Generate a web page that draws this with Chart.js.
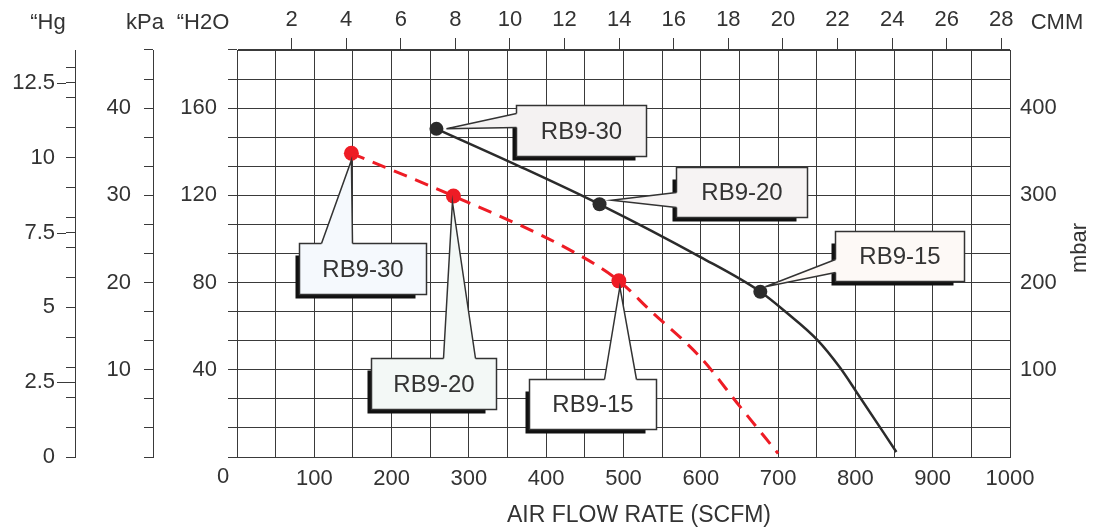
<!DOCTYPE html>
<html>
<head>
<meta charset="utf-8">
<style>
  html, body { margin: 0; padding: 0; background: #fff; }
  #wrap { width: 1093px; height: 529px; }
</style>
<script src="https://cdn.jsdelivr.net/npm/chart.js@4.4.1/dist/chart.umd.min.js"></script>
</head>
<body>
<div id="wrap"><canvas id="chart"></canvas></div>
<script>
// curves: flow in SCFM, vacuum in inches of water
const blackFlow = [258, 366, 469, 599, 677, 710, 751, 780, 802, 853];
const blackVac  = [150.5, 133.2, 115.9, 91.8, 75.8, 66.5, 53.6, 41.0, 29.5, 2.3];
const redFlow   = [148, 280, 431, 494, 534, 599, 651, 700];
const redVac    = [139.3, 119.7, 94.9, 80.8, 67.4, 45.9, 23.0, 1.6];

// model points marked on each curve
const modelNames   = ['RB9-30', 'RB9-20', 'RB9-15'];
const blackDotFlow = [258, 469, 677];
const blackDotVac  = [150.5, 115.9, 75.8];
const redDotFlow   = [148, 280, 494];
const redDotVac    = [139.3, 119.7, 80.8];

// axis ticks
const flowLabels = [100, 200, 300, 400, 500, 600, 700, 800, 900, 1000];
const cmmLabels  = [2, 4, 6, 8, 10, 12, 14, 16, 18, 20, 22, 24, 26, 28];
const h2oLabels  = [40, 80, 120, 160];
const kpaLabels  = [10, 20, 30, 40];
const mbarLabels = [100, 200, 300, 400];
const hgLabels   = [0, 2.5, 5, 7.5, 10, 12.5];
const hgHalf     = [2.5, 7.5, 12.5];

const INK = '#333333';
const GRID = '#3a3a3a';
const FONT = "'Liberation Sans', Arial, sans-serif";
const RED = '#ee1c25';

const steps = (step, n) => Array.from({ length: n + 1 }, (_, k) => k * step);
const near = (v, list) => list.some(l => Math.abs(l - v) < 1e-6);
const ticksAt = values => scale => { scale.ticks = values.map(v => ({ value: v })); };
const width = w => scale => { scale.width = w; };
const height = h => scale => { scale.height = h; };

const tickFont = { family: FONT, size: 22 };

const callouts = [
  { dots: 'black', i: 0, dx: 80, dy: -24, w: 130, h: 51, fill: '#f4f2f2', side: 'left', b1: 8, b2: 22, ax: 10, ay: 0 },
  { dots: 'black', i: 1, dx: 76, dy: -37, w: 131, h: 50, fill: '#f6f3f3', side: 'left', b1: 25, b2: 40, ax: 12, ay: -4 },
  { dots: 'black', i: 2, dx: 75, dy: -61, w: 129, h: 50, fill: '#fdf9f6', side: 'left', b1: 28, b2: 41, ax: 5, ay: -5 },
  { dots: 'red', i: 0, dx: -52, dy: 90, w: 127, h: 51, fill: '#f5f9fd', side: 'top', b1: 22, b2: 53, ax: 0, ay: 7 },
  { dots: 'red', i: 1, dx: -82, dy: 162, w: 125, h: 51, fill: '#f3f8f6', side: 'top', b1: 72, b2: 104, ax: -1, ay: 6 },
  { dots: 'red', i: 2, dx: -90, dy: 98, w: 127, h: 50, fill: '#ffffff', side: 'top', b1: 75, b2: 107, ax: 1, ay: 6 }
];

const extras = {
  id: 'extras',
  afterDraw(chart) {
    const ctx = chart.ctx;
    const { x, y, hg } = chart.scales;
    ctx.save();

    // longer ticks at the half inches of mercury
    ctx.strokeStyle = GRID;
    ctx.lineWidth = 1;
    hgHalf.forEach(v => {
      const py = Math.round(hg.getPixelForValue(v)) + 0.5;
      ctx.beginPath();
      ctx.moveTo(hg.right - 18, py);
      ctx.lineTo(hg.right - 9, py);
      ctx.stroke();
    });

    ctx.fillStyle = INK;
    ctx.font = `22px ${FONT}`;
    ctx.textBaseline = 'middle';
    ctx.textAlign = 'center';
    ctx.fillText('0', x.getPixelForValue(0) - 14, 477);
    ctx.fillText('\u201cHg', 48, 23);
    ctx.fillText('kPa', 145, 23);
    ctx.fillText('\u201cH2O', 203, 23);
    ctx.fillText('CMM', 1057, 23);
    ctx.font = `23px ${FONT}`;
    ctx.fillText('AIR FLOW RATE (SCFM)', 639, 516);
    ctx.font = `22px ${FONT}`;
    ctx.save();
    ctx.translate(1080, 248);
    ctx.rotate(-Math.PI / 2);
    ctx.fillText('mbar', 0, 0);
    ctx.restore();

    // callout boxes
    callouts.forEach(c => {
      const fx = c.dots === 'black' ? blackDotFlow : redDotFlow;
      const fy = c.dots === 'black' ? blackDotVac : redDotVac;
      const px = x.getPixelForValue(fx[c.i]);
      const py = y.getPixelForValue(fy[c.i]);
      const bx = Math.round(px + c.dx) + 0.5;
      const by = Math.round(py + c.dy) + 0.5;

      ctx.fillStyle = '#111';
      ctx.fillRect(bx - 4, by + 12, c.w - 7, c.h - 8);

      ctx.fillStyle = c.fill;
      ctx.strokeStyle = INK;
      ctx.lineWidth = 1.5;
      ctx.fillRect(bx, by, c.w, c.h);
      ctx.strokeRect(bx, by, c.w, c.h);

      const ax = px + c.ax, ay = py + c.ay;
      let p1, p2, q1, q2;
      if (c.side === 'left') {
        p1 = [bx, by + c.b1]; p2 = [bx, by + c.b2];
        q1 = [bx + 2, by + c.b1]; q2 = [bx + 2, by + c.b2];
      } else {
        p1 = [bx + c.b1, by]; p2 = [bx + c.b2, by];
        q1 = [bx + c.b1, by + 2]; q2 = [bx + c.b2, by + 2];
      }
      ctx.beginPath();
      ctx.moveTo(q1[0], q1[1]);
      ctx.lineTo(p1[0], p1[1]);
      ctx.lineTo(ax, ay);
      ctx.lineTo(p2[0], p2[1]);
      ctx.lineTo(q2[0], q2[1]);
      ctx.closePath();
      ctx.fill();
      ctx.beginPath();
      ctx.moveTo(p1[0], p1[1]);
      ctx.lineTo(ax, ay);
      ctx.lineTo(p2[0], p2[1]);
      ctx.stroke();

      ctx.fillStyle = INK;
      ctx.font = `24px ${FONT}`;
      ctx.fillText(modelNames[c.i], bx + c.w / 2, by + c.h / 2 + 1);
    });
    ctx.restore();
  }
};

const pts = (xs, ys) => xs.map((v, k) => ({ x: v, y: ys[k] }));

new Chart(document.getElementById('chart'), {
  type: 'scatter',
  data: {
    datasets: [
      {
        data: pts(blackFlow, blackVac), xAxisID: 'x', yAxisID: 'y', showLine: true,
        borderColor: '#2b2b2b', borderWidth: 2.5, pointRadius: 0, cubicInterpolationMode: 'monotone'
      },
      {
        data: pts(redFlow, redVac), xAxisID: 'x', yAxisID: 'y', showLine: true,
        borderColor: RED, borderWidth: 3, borderDash: [14, 9], pointRadius: 0, cubicInterpolationMode: 'monotone'
      },
      {
        data: pts(blackDotFlow, blackDotVac), xAxisID: 'x', yAxisID: 'y',
        pointRadius: 7, backgroundColor: '#2b2b2b', borderWidth: 0
      },
      {
        data: pts(redDotFlow, redDotVac), xAxisID: 'x', yAxisID: 'y',
        pointRadius: 7.5, backgroundColor: RED, borderWidth: 0
      }
    ]
  },
  options: {
    responsive: true,
    maintainAspectRatio: false,
    animation: false,
    layout: { padding: 0 },
    plugins: { legend: { display: false }, tooltip: { enabled: false } },
    scales: {
      x: {
        type: 'linear', position: 'bottom', min: 0, max: 1000,
        afterBuildTicks: ticksAt(steps(50, 20)),
        afterFit: height(72),
        grid: { color: GRID, drawTicks: false },
        border: { color: GRID },
        ticks: {
          autoSkip: false, maxRotation: 0, color: INK, font: tickFont, padding: 9,
          callback: v => near(v, flowLabels) ? String(v) : ''
        }
      },
      cmm: {
        type: 'linear', position: 'top', min: 0, max: 1000 / 35.3147,
        afterBuildTicks: ticksAt(cmmLabels),
        afterFit: height(50),
        grid: { drawOnChartArea: false, color: GRID, tickLength: 12 },
        border: { color: GRID },
        ticks: { autoSkip: false, maxRotation: 0, color: INK, font: tickFont, padding: 5, callback: v => String(v) }
      },
      hg: {
        type: 'linear', position: 'left', weight: 3, min: 0, max: 13.6,
        afterBuildTicks: ticksAt(steps(1, 13).concat(hgHalf).sort((a, b) => a - b)),
        afterFit: width(75),
        grid: { drawOnChartArea: false, color: GRID, tickLength: 9 },
        border: { color: GRID },
        ticks: {
          autoSkip: false, color: INK, font: tickFont, padding: 11,
          callback: v => near(v, hgLabels) ? String(v) : ''
        }
      },
      kpa: {
        type: 'linear', position: 'left', weight: 2, min: 0, max: 140 / 3,
        afterBuildTicks: ticksAt(steps(10 / 3, 14)),
        afterFit: width(78),
        grid: { drawOnChartArea: false, color: GRID, tickLength: 9 },
        border: { color: GRID },
        ticks: {
          autoSkip: false, color: INK, font: tickFont, padding: 13,
          callback: v => near(v, kpaLabels) ? String(Math.round(v)) : ''
        }
      },
      y: {
        type: 'linear', position: 'left', weight: 1, min: 0, max: 560 / 3,
        afterBuildTicks: ticksAt(steps(40 / 3, 14)),
        afterFit: width(84),
        grid: { color: GRID, tickLength: 9 },
        border: { color: GRID },
        ticks: {
          autoSkip: false, color: INK, font: tickFont, padding: 11,
          callback: v => near(v, h2oLabels) ? String(Math.round(v)) : ''
        }
      },
      mbar: {
        type: 'linear', position: 'right', min: 0, max: 1400 / 3,
        afterBuildTicks: ticksAt(steps(100 / 3, 14)),
        afterFit: width(83),
        grid: { drawOnChartArea: false, drawTicks: false, color: GRID },
        border: { color: GRID },
        ticks: {
          autoSkip: false, color: INK, font: tickFont, padding: 10,
          callback: v => near(v, mbarLabels) ? String(Math.round(v)) : ''
        }
      }
    }
  },
  plugins: [extras]
});
</script>
</body>
</html>
